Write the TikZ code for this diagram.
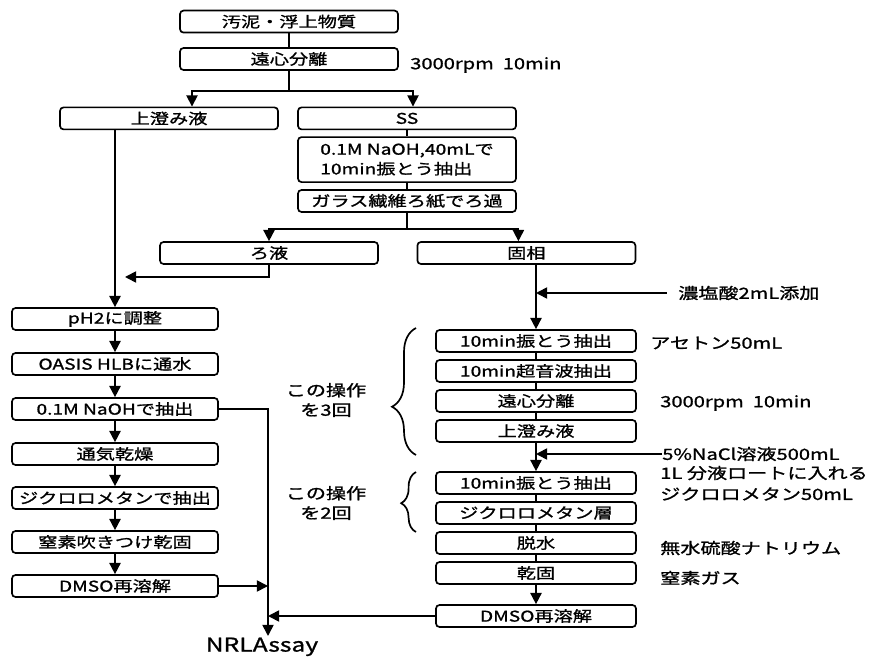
\documentclass[tikz,border=0pt]{standalone}
\usepackage{fontspec}
\usepackage{tikz}
\usetikzlibrary{arrows.meta,positioning,calc,decorations.pathreplacing}
\newfontfamily\jpfont[FakeStretch=1.3, FakeBold=1.2]{Noto Sans CJK JP}
\tikzset{
  stepbox/.style={draw, line width=1.2pt, rounded corners=2.5pt,
                  minimum height=5.5mm, inner xsep=1pt, inner ysep=0pt,
                  font=\jpfont\fontsize{10.5}{14}\selectfont},
  widebox/.style={stepbox, minimum width=5.45cm},
  leftbox/.style={stepbox, minimum width=5.15cm},
  rightbox/.style={stepbox, minimum width=5.0cm},
  note/.style={font=\jpfont\fontsize{11}{14}\selectfont, anchor=west,
               inner sep=0pt},
  flow/.style={-{Triangle[length=2.8mm,width=2.8mm]}, line width=1.2pt},
  link/.style={line width=1.2pt},
  repbrace/.style={decorate, line width=1.2pt},
}

\begin{document}
\begin{tikzpicture}[x=1cm, y=1cm]
  \useasboundingbox (0,0) rectangle (22,-16.525);
  % top part
  \node[widebox] (src) at (7.225,-0.54) {汚泥・浮上物質};
  \node[widebox] (cent1) at (7.225,-1.475) {遠心分離};
  \node[note] (rpm1) at (10.25,-1.625) {3000rpm\ \ 10min};
  \node[widebox] (sup1) at (4.225,-2.96) {上澄み液};
  \node[widebox] (ss) at (10.175,-2.96) {SS};
  \node[widebox, minimum height=11.25mm, align=left] (naoh) at (10.175,-3.99)
    {0.1M NaOH,40mLで\\10min振とう抽出};
  \node[widebox] (glass) at (10.175,-5.025) {ガラス繊維ろ紙でろ過};
  \node[widebox] (filt) at (6.725,-6.325) {ろ液};
  \node[widebox] (solid) at (13.16,-6.325) {固相};
  % left column
  \node[leftbox] (ph) at (2.875,-7.975) {pH2に調整};
  \node[leftbox] (oasis) at (2.875,-9.1) {OASIS HLBに通水};
  \node[leftbox] (elute) at (2.875,-10.225) {0.1M NaOHで抽出};
  \node[leftbox] (dry) at (2.875,-11.35) {通気乾燥};
  \node[leftbox] (dcm) at (2.875,-12.45) {ジクロロメタンで抽出};
  \node[leftbox] (n2) at (2.875,-13.55) {窒素吹きつけ乾固};
  \node[leftbox] (dmsoL) at (2.875,-14.65) {DMSO再溶解};
  % right column
  \node[note] (hcl) at (16.95,-7.325) {濃塩酸2mL添加};
  \node[rightbox] (shake1) at (13.4,-8.525) {10min振とう抽出};
  \node[note] (acetone) at (16.25,-8.575) {アセトン50mL};
  \node[rightbox] (sonic) at (13.4,-9.275) {10min超音波抽出};
  \node[rightbox] (cent2) at (13.4,-10.025) {遠心分離};
  \node[note] (rpm2) at (16.5,-10.075) {3000rpm\ \ 10min};
  \node[rightbox] (sup2) at (13.4,-10.775) {上澄み液};
  \node[note] (nacl) at (16.55,-11.35) {5\%NaCl溶液500mL};
  \node[note] (funnel) at (16.5,-11.825) {1L 分液ロートに入れる};
  \node[rightbox] (shake2) at (13.4,-12.075) {10min振とう抽出};
  \node[note] (dcm50) at (16.5,-12.35) {ジクロロメタン50mL};
  \node[rightbox] (dcml) at (13.4,-12.825) {ジクロロメタン層};
  \node[rightbox] (dehyd) at (13.4,-13.575) {脱水};
  \node[note] (na2so4) at (16.5,-13.7) {無水硫酸ナトリウム};
  \node[rightbox] (dryR) at (13.4,-14.325) {乾固};
  \node[note] (n2gas) at (16.5,-14.45) {窒素ガス};
  \node[rightbox] (dmsoR) at (13.4,-15.4) {DMSO再溶解};
  % repeat marks
  \node[note, anchor=center, align=center] (rep3) at (8.15,-10.0)
    {この操作\\を3回};
  \node[note, anchor=center, align=center] (rep2) at (8.15,-12.575)
    {この操作\\を2回};
  \draw[repbrace, decoration={brace, amplitude=6mm, aspect=0.38}]
    (10.4,-11.375) -- (10.4,-8.2);
  \draw[repbrace, decoration={brace, amplitude=3.7mm, aspect=0.48}]
    (10.4,-13.3) -- (10.4,-11.8);
  % sink
  \node[note, anchor=north, inner sep=1pt, font=\jpfont\fontsize{13.5}{16}\selectfont]
    (assay) at (6.55,-15.9) {NRLAssay};
  \coordinate (trunk) at ([xshift=1.5mm]assay.north);
  % edges
  \draw[link] (src) -- (cent1);
  \draw[link] (cent1.south) -- ++(0,-0.5) coordinate (fork1);
  \draw[flow] (fork1) -| ([xshift=5.75mm]sup1.north);
  \draw[flow] (fork1) -| ([xshift=1.5mm]ss.north);
  \draw[link] (ss) -- (naoh);
  \draw[link] (naoh) -- (glass);
  \draw[link] (glass.south) -- ++(0,-0.4) coordinate (fork2);
  \draw[flow] (fork2) -| (filt.north);
  \draw[flow] (fork2) -| ([xshift=-2mm]solid.north);
  \draw[flow] (sup1.south -| ph.north) -- (ph.north);
  \coordinate (merge) at (2.875,-6.925);
  \draw[flow, shorten >=2.5mm] (filt.south) |- (merge);
  \draw[flow] (ph) -- (oasis);
  \draw[flow] (oasis) -- (elute);
  \draw[flow] (elute) -- (dry);
  \draw[flow] (dry) -- (dcm);
  \draw[flow] (dcm) -- (n2);
  \draw[flow] (n2) -- (dmsoL);
  \draw[flow] (elute.east) -| (trunk);
  \draw[flow] (dmsoL.east) -- (dmsoL.east -| trunk);
  \draw[flow] (dmsoR.west) -- (dmsoR.west -| trunk);
  \draw[flow] (solid.south -| shake1.north) -- (shake1.north);
  \draw[flow, shorten <=2.8mm] (hcl.west) -- (hcl.west -| shake1.north);
  \draw[link] (shake1) -- (sonic);
  \draw[link] (sonic) -- (cent2);
  \draw[link] (cent2) -- (sup2);
  \draw[flow] (sup2) -- (shake2);
  \draw[flow] (nacl.west) -- (nacl.west -| sup2.south);
  \draw[link] (shake2) -- (dcml);
  \draw[link] (dcml) -- (dehyd);
  \draw[link] (dehyd) -- (dryR);
  \draw[flow] (dryR) -- (dmsoR);
\end{tikzpicture}
\end{document}
